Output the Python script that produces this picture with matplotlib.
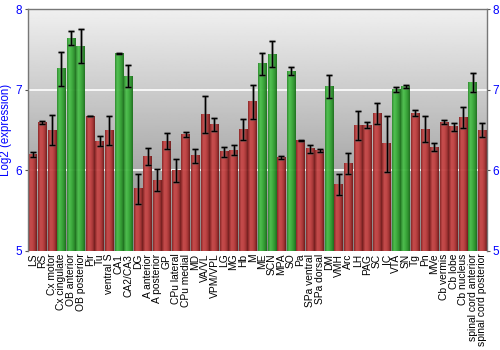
import numpy as np
import matplotlib.pyplot as plt
from matplotlib.colors import LinearSegmentedColormap

plt.rcParams['font.family'] = ['Liberation Sans', 'DejaVu Sans']

regions = ['LS', 'RS', 'Cx motor', 'Cx cingulate', 'OB anterior', 'OB posterior', 'Pir', 'Tu',
           'ventral S', 'CA1', 'CA2/CA3', 'DG', 'A anterior', 'A posterior', 'GP', 'CPu lateral',
           'CPu medial', 'MD', 'VA/VL', 'VPM/VPL', 'LG', 'MG', 'Hb', 'M', 'ME', 'SCN', 'MPA', 'SO',
           'Pa', 'SPa ventral', 'SPa dorsal', 'DM', 'VMH', 'Arc', 'LH', 'PAG', 'SC', 'IC', 'VTA', 'SN',
           'Tg', 'Pn', 'MVe', 'Cb vermis', 'Cb lobe', 'Cb nucleus', 'spinal cord anterior',
           'spinal cord posterior']
expression = [6.20, 6.59, 6.50, 7.26, 7.64, 7.54, 6.67, 6.36, 6.50, 7.45, 7.17, 5.77, 6.17, 5.88,
              6.36, 6.00, 6.44, 6.18, 6.69, 6.57, 6.23, 6.25, 6.51, 6.85, 7.32, 7.44, 6.16, 7.23,
              6.37, 6.27, 6.25, 7.04, 5.83, 6.09, 6.56, 6.56, 6.70, 6.33, 7.00, 7.04, 6.71, 6.51,
              6.29, 6.60, 6.54, 6.66, 7.09, 6.50]
error = [0.03, 0.02, 0.19, 0.21, 0.09, 0.21, 0.00, 0.06, 0.18, 0.01, 0.14, 0.19, 0.11, 0.14,
         0.10, 0.14, 0.03, 0.09, 0.23, 0.08, 0.06, 0.06, 0.13, 0.21, 0.14, 0.16, 0.02, 0.05,
         0.01, 0.05, 0.02, 0.14, 0.13, 0.13, 0.18, 0.04, 0.13, 0.35, 0.03, 0.02, 0.04, 0.16,
         0.05, 0.02, 0.05, 0.13, 0.12, 0.09]
enriched = ['Cx cingulate', 'OB anterior', 'OB posterior', 'CA1', 'CA2/CA3', 'ME', 'SCN', 'SO',
            'DM', 'VTA', 'SN', 'spinal cord anterior']

red_cmap = LinearSegmentedColormap.from_list(
    'red_bar', ['#8a2222', '#c84848', '#c44444', '#a83232', '#701818'])
green_cmap = LinearSegmentedColormap.from_list(
    'green_bar', ['#2a8a2a', '#4cc04c', '#3cb03c', '#2c962c', '#1a6e1a'])

fig = plt.figure(figsize=(5, 3.5), dpi=100)
ax = fig.add_axes([0.056, 0.283, 0.918, 0.691])

ymin, ymax = 5, 8
n = len(regions)
x = np.arange(n)

# grey background: light at the top, darker towards the bottom
bg = np.linspace(0.94, 0.52, 256).reshape(-1, 1)
ax.imshow(bg, cmap='gray', vmin=0, vmax=1, extent=(-0.5, n - 0.5, ymin, ymax),
          origin='upper', aspect='auto', zorder=0)

for yv in [6, 7]:
    ax.axhline(yv, color='white', lw=1.2, zorder=1)

# cylinder-shaded bars
shade = np.linspace(0, 1, 32).reshape(1, -1)
width = 0.9
for xi, val, name in zip(x, expression, regions):
    cmap = green_cmap if name in enriched else red_cmap
    ax.imshow(shade, cmap=cmap, extent=(xi - width / 2, xi + width / 2, ymin, val),
              aspect='auto', zorder=2, alpha=0.95)

ax.errorbar(x, expression, yerr=error, fmt='none', ecolor='#555555', elinewidth=2.2,
            capsize=2.5, capthick=2.2, alpha=0.5, zorder=3)
ax.errorbar(x, expression, yerr=error, fmt='none', ecolor='black', elinewidth=0.9,
            capsize=2.2, capthick=0.9, zorder=4)

ax.set_xlim(-0.5, n - 0.5)
ax.set_ylim(ymin, ymax)
ax.set_xticks(x)
ax.set_xticklabels(regions, rotation=90, fontsize=7.4)
ax.set_yticks([5, 6, 7, 8])
ax.tick_params(axis='x', length=0, pad=2)
ax.tick_params(axis='y', colors='#555555', labelcolor='blue', labelsize=8.5, length=2.5,
               pad=1.5, left=True, right=True, labelleft=True, labelright=True)
ax.set_ylabel('Log2 (expression)', color='blue', fontsize=8.3, labelpad=3)

for side in ['left', 'right', 'top']:
    ax.spines[side].set_color('#777777')
    ax.spines[side].set_linewidth(1)
ax.spines['bottom'].set_visible(False)

fig.savefig('out.png', dpi=100, bbox_inches=None)
